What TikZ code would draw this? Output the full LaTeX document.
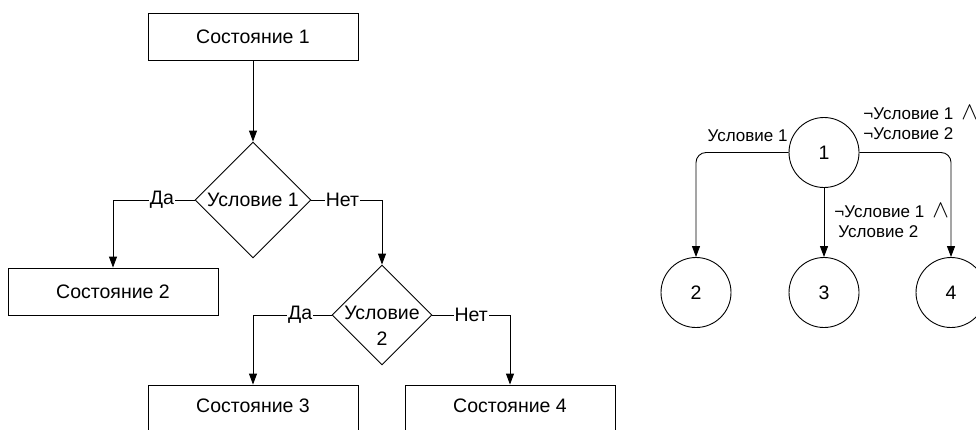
\documentclass[tikz,border=0pt]{standalone}
\usepackage{fontspec}
\setmainfont{Liberation Sans}
\usetikzlibrary{arrows.meta,shapes.geometric}

\tikzset{
  big/.style={font=\fontsize{19.5}{22}\selectfont},
  small/.style={font=\fontsize{17}{20}\selectfont, inner sep=0pt},
  statebox/.style={draw, rectangle, big, minimum width=210pt, minimum height=47pt, inner sep=0pt},
  condbox/.style={draw, diamond, big, aspect=1, inner sep=0pt, align=center},
  statecirc/.style={draw, circle, big, minimum size=70pt, inner sep=0pt},
  arr/.style={-{Triangle[length=11pt,width=8pt]}},
  lbl/.style={big, fill=white, inner sep=1pt},
}
% logical "and" sign, drawn a little wider than the text
\newcommand{\conj}{\hspace{8pt}{\fontsize{26}{20}\selectfont$\wedge$}}

\begin{document}
\begin{tikzpicture}[x=1pt, y=-1pt, line width=0.9pt]
  \useasboundingbox (0,0) rectangle (976,429);

  % flowchart
  \node[statebox] (b1) at (253,36.5) {Состояние 1};
  \node[condbox, minimum width=116pt, minimum height=116pt] (d1) at (253,200) {Условие 1};
  \node[statebox] (b2) at (113,291.5) {Состояние 2};
  \node[condbox, minimum width=100pt, minimum height=100pt] (d2) at (382,315) {};
  \node[big, align=center, inner sep=0pt, font=\fontsize{19.5}{26}\selectfont] (d2t) at (382,326) {Условие\\2};
  \node[statebox] (b3) at (253,408.5) {\raisebox{6pt}{Состояние 3}};
  \node[statebox] (b4) at (510,408.5) {\raisebox{6pt}{Состояние 4}};

  \draw[arr] (b1) -- (d1);
  \draw[arr] (d1.west) -| node[lbl, pos=0.2] {Да} (b2.north);
  \draw[arr] (d1.east) -| node[lbl, pos=0.22] {Нет} (d2.north);
  \draw[arr] (d2.west) -| node[lbl, pos=0.2] {Да} (b3.north);
  \draw[arr] (d2.east) -| node[lbl, pos=0.25] {Нет} (b4.north);

  % state graph
  \node[statecirc] (c1) at (824,152.5) {1};
  \node[statecirc] (c2) at (696,292.5) {2};
  \node[statecirc] (c3) at (824,292.5) {3};
  \node[statecirc] (c4) at (951,292.5) {4};

  \draw[arr, rounded corners=10pt] (c1.west) -| (c2.north);
  \draw[arr] (c1) -- (c3);
  \draw[arr, rounded corners=10pt] (c1.east) -| (c4.north);

  \node[small, anchor=base east] (t12) at (788,141) {Условие 1};
  \node[small, anchor=base west] (t14a) at (863,119) {¬Условие 1\conj};
  \node[small, anchor=base west] (t14b) at (863,139) {¬Условие 2};
  \node[small, anchor=base west] (t13a) at (834,217) {¬Условие 1\conj};
  \node[small, anchor=base west] (t13b) at (838,237) {Условие 2};
\end{tikzpicture}
\end{document}
